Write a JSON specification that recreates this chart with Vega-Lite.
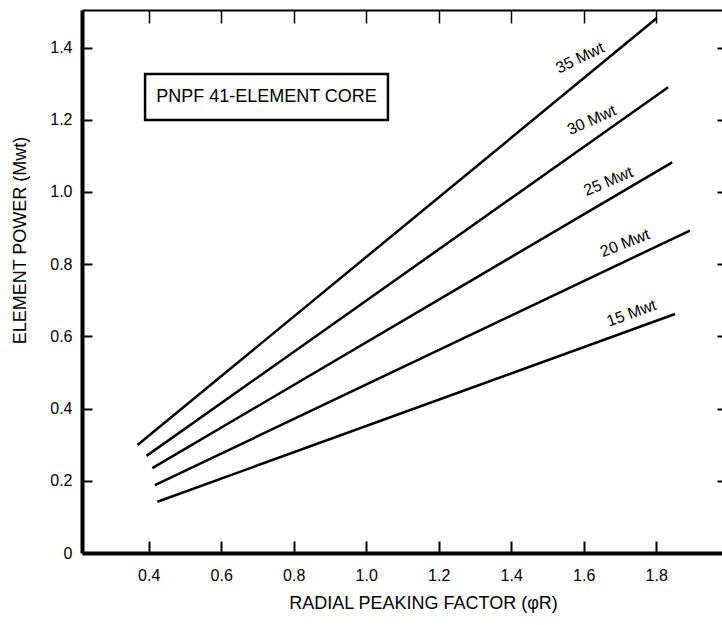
{
  "$schema": "https://vega.github.io/schema/vega-lite/v6.json",
  "width": 640,
  "height": 543,
  "autosize": "none",
  "padding": {"left": 82, "top": 10, "right": 0, "bottom": 72},
  "background": "white",
  "config": {
    "view": {"stroke": null},
    "font": "Liberation Sans, sans-serif",
    "axis": {
      "grid": false,
      "labelColor": "black",
      "titleColor": "black",
      "domainColor": "black",
      "tickColor": "black",
      "labelFont": "Liberation Sans, sans-serif",
      "titleFont": "Liberation Sans, sans-serif",
      "titleFontWeight": "normal",
      "labelFontSize": 16,
      "titleFontSize": 18
    }
  },
  "datasets": {
    "lines": [
      {"power": 35, "factor": 0.369, "element": 0.299},
      {"power": 35, "factor": 1.801, "element": 1.481},
      {"power": 30, "factor": 0.394, "element": 0.269},
      {"power": 30, "factor": 1.833, "element": 1.290},
      {"power": 25, "factor": 0.410, "element": 0.235},
      {"power": 25, "factor": 1.844, "element": 1.082},
      {"power": 20, "factor": 0.417, "element": 0.188},
      {"power": 20, "factor": 1.893, "element": 0.893},
      {"power": 15, "factor": 0.424, "element": 0.142},
      {"power": 15, "factor": 1.852, "element": 0.662}
    ],
    "labels": [
      {"power": 35, "label": "35 Mwt", "factor": 1.590, "element": 1.371},
      {"power": 30, "label": "30 Mwt", "factor": 1.622, "element": 1.199},
      {"power": 25, "label": "25 Mwt", "factor": 1.668, "element": 1.029},
      {"power": 20, "label": "20 Mwt", "factor": 1.714, "element": 0.858},
      {"power": 15, "label": "15 Mwt", "factor": 1.732, "element": 0.664}
    ],
    "box": [
      {"x1": 0.390, "x2": 1.060, "y1": 1.199, "y2": 1.327, "xc": 0.725, "yc": 1.263, "label": "PNPF 41-ELEMENT CORE"}
    ]
  },
  "layer": [
    {
      "data": {"name": "lines"},
      "mark": {"type": "line", "color": "black", "strokeWidth": 2.5},
      "encoding": {
        "x": {
          "field": "factor", "type": "quantitative",
          "scale": {"domain": [0.216, 1.9815], "nice": false, "zero": false},
          "axis": {
            "orient": "bottom",
            "values": [0.4, 0.6, 0.8, 1.0, 1.2, 1.4, 1.6, 1.8],
            "format": ".1f",
            "domainWidth": 4,
            "tickWidth": 2,
            "tickSize": -12,
            "labelPadding": 26,
            "title": "RADIAL PEAKING FACTOR (φR)",
            "titleX": 341,
            "titleY": 50,
            "titleBaseline": "middle"
          }
        },
        "y": {
          "field": "element", "type": "quantitative",
          "scale": {"domain": [0, 1.504], "nice": false},
          "axis": {
            "orient": "left",
            "values": [0, 0.2, 0.4, 0.6, 0.8, 1.0, 1.2, 1.4],
            "labelExpr": "datum.value == 0 ? '0' : format(datum.value, '.1f')",
            "domainWidth": 4,
            "tickWidth": 2,
            "tickSize": -10,
            "labelPadding": 20,
            "title": "ELEMENT POWER (Mwt)",
            "titleX": -62,
            "titleY": 230,
            "titleBaseline": "middle"
          }
        },
        "detail": {"field": "power", "type": "nominal"}
      }
    },
    {
      "data": {"name": "box"},
      "mark": {"type": "rect", "fill": "white", "stroke": "black", "strokeWidth": 2.5},
      "encoding": {
        "x": {"field": "x1", "type": "quantitative", "axis": {
          "orient": "top",
          "values": [0.4, 0.6, 0.8, 1.0, 1.2, 1.4, 1.6, 1.8],
          "labels": false,
          "domainWidth": 2,
          "tickWidth": 1.5,
          "tickSize": -13,
          "title": null
        }},
        "x2": {"field": "x2"},
        "y": {"field": "y1", "type": "quantitative", "axis": {
          "orient": "right",
          "values": [0.2, 0.4, 0.6, 0.8, 1.0, 1.2, 1.4],
          "labels": false,
          "domain": false,
          "tickWidth": 2,
          "tickSize": -5,
          "title": null
        }},
        "y2": {"field": "y2"}
      }
    },
    {
      "data": {"name": "box"},
      "mark": {"type": "text", "fontSize": 18, "color": "black", "align": "center", "baseline": "middle"},
      "encoding": {
        "x": {"field": "xc", "type": "quantitative", "axis": null},
        "y": {"field": "yc", "type": "quantitative", "axis": null},
        "text": {"field": "label"}
      }
    },
    {
      "data": {"name": "labels"},
      "mark": {"type": "text", "fontSize": 16, "color": "black", "align": "center", "baseline": "middle"},
      "encoding": {
        "x": {"field": "factor", "type": "quantitative", "axis": null},
        "y": {"field": "element", "type": "quantitative", "axis": null},
        "text": {"field": "label"},
        "angle": {
          "field": "power", "type": "ordinal",
          "scale": {"domain": [15, 20, 25, 30, 35], "range": [-20, -25.5, -30.5, -35, -39]},
          "legend": null
        }
      }
    }
  ],
  "resolve": {"axis": {"x": "independent", "y": "independent"}}
}
